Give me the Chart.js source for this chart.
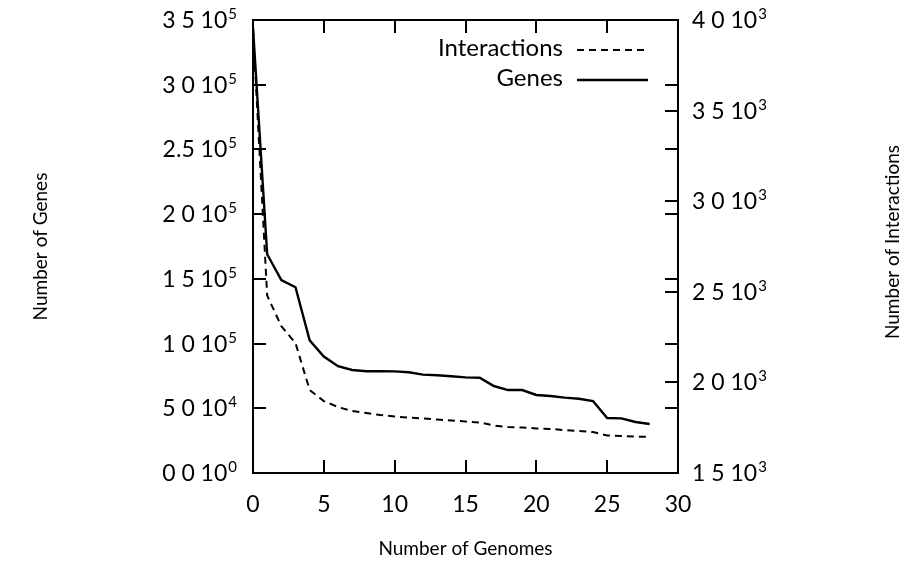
<!DOCTYPE html>
<html>
<head>
<meta charset="utf-8">
<script src="https://cdn.jsdelivr.net/npm/chart.js@4/dist/chart.umd.min.js"></script>
<style>
  body { margin: 0; background: #fff; }
  canvas { display: block; }
</style>
</head>
<body>
<canvas id="chart" width="922" height="561"></canvas>
<script>
// Genes / Interactions vs number of genomes
const genomes = [0, 1, 2, 3, 4, 5, 6, 7, 8, 9, 10, 11, 12, 13, 14, 15, 16, 17, 18, 19, 20, 21, 22, 23, 24, 25, 26, 27, 28];
const genes = [344000, 169000, 149000, 143500, 102500, 90000, 82500, 79600, 78600, 78600, 78500, 77800, 76000, 75500, 74700, 73900, 73600, 67200, 64100, 64100, 60300, 59500, 58200, 57400, 55600, 42500, 42200, 39400, 37900];
const interactions = [3950, 2480, 2310, 2217, 1958, 1897, 1864, 1842, 1831, 1820, 1812, 1806, 1801, 1795, 1790, 1784, 1779, 1762, 1754, 1751, 1746, 1743, 1737, 1732, 1726, 1707, 1704, 1701, 1699];

const xTicks = [0, 5, 10, 15, 20, 25, 30];
// tick labels as printed: mantissa, then "10" with a superscript exponent
const geneTicks = [0, 50000, 100000, 150000, 200000, 250000, 300000, 350000];
const geneTickBase = ['0 0', '5 0', '1 0', '1 5', '2 0', '2.5', '3 0', '3 5'];
const geneTickExp = ['0', '4', '5', '5', '5', '5', '5', '5'];
const interTicks = [1500, 2000, 2500, 3000, 3500, 4000];
const interTickBase = ['1 5', '2 0', '2 5', '3 0', '3 5', '4 0'];
const interTickExp = ['3', '3', '3', '3', '3', '3'];

const FONT = 'Lato, "DejaVu Sans", sans-serif';
const INK = '#000';
const TICK_PX = 23;
const SUP_PX = 15;

// frame + inward tick marks (gnuplot style), mirrored like the original
const framePlugin = {
  id: 'frame',
  afterDatasetsDraw(chart) {
    const { ctx, chartArea: a, scales } = chart;
    const len = 13;
    ctx.save();
    ctx.strokeStyle = INK;
    ctx.lineWidth = 2;
    ctx.setLineDash([]);
    ctx.beginPath();
    scales.x.ticks.forEach(t => {
      const px = Math.round(scales.x.getPixelForValue(t.value));
      if (px <= a.left + 1 || px >= a.right - 1) return;
      ctx.moveTo(px, a.bottom); ctx.lineTo(px, a.bottom - len);
      ctx.moveTo(px, a.top); ctx.lineTo(px, a.top + len);
    });
    scales.y.ticks.forEach(t => {
      const py = Math.round(scales.y.getPixelForValue(t.value));
      if (py <= a.top + 1 || py >= a.bottom - 1) return;
      ctx.moveTo(a.left, py); ctx.lineTo(a.left + len, py);
      ctx.moveTo(a.right, py); ctx.lineTo(a.right - len, py);
    });
    scales.y2.ticks.forEach(t => {
      const py = Math.round(scales.y2.getPixelForValue(t.value));
      if (py <= a.top + 1 || py >= a.bottom - 1) return;
      ctx.moveTo(a.right, py); ctx.lineTo(a.right - len, py);
    });
    ctx.stroke();
    ctx.strokeRect(a.left, a.top, a.right - a.left, a.bottom - a.top);
    ctx.restore();
  }
};

// y tick labels with real superscripts ("10" raised exponent)
function drawSciLabel(ctx, base, exp, x, y, alignRight) {
  const main = base + ' 10';
  ctx.font = TICK_PX + 'px ' + FONT;
  const wMain = ctx.measureText(main).width;
  ctx.font = SUP_PX + 'px ' + FONT;
  const wExp = ctx.measureText(exp).width;
  const left = alignRight ? x - wMain - wExp - 1 : x;
  ctx.font = TICK_PX + 'px ' + FONT;
  ctx.fillText(main, left, y + 8);
  ctx.font = SUP_PX + 'px ' + FONT;
  ctx.fillText(exp, left + wMain + 1, y - 1);
}

const sciTicksPlugin = {
  id: 'sciTicks',
  afterDraw(chart) {
    const { ctx, chartArea: a, scales } = chart;
    ctx.save();
    ctx.fillStyle = INK;
    ctx.textAlign = 'left';
    ctx.textBaseline = 'alphabetic';
    scales.y.ticks.forEach(t => {
      const i = geneTicks.indexOf(t.value);
      if (i < 0) return;
      drawSciLabel(ctx, geneTickBase[i], geneTickExp[i], a.left - 16, scales.y.getPixelForValue(t.value), true);
    });
    scales.y2.ticks.forEach(t => {
      const i = interTicks.indexOf(t.value);
      if (i < 0) return;
      drawSciLabel(ctx, interTickBase[i], interTickExp[i], a.right + 14, scales.y2.getPixelForValue(t.value), false);
    });
    ctx.restore();
  }
};

// key in the upper right: text right-aligned, line sample after it
const keyPlugin = {
  id: 'key',
  afterDraw(chart) {
    const { ctx } = chart;
    const textRight = 563, lineLeft = 577, lineRight = 648;
    const rows = [48, 78];
    ctx.save();
    ctx.font = '24px ' + FONT;
    ctx.textAlign = 'right';
    ctx.textBaseline = 'middle';
    chart.data.datasets.forEach((ds, i) => {
      const y = rows[i];
      ctx.fillStyle = INK;
      ctx.fillText(ds.label, textRight, y);
      ctx.strokeStyle = ds.borderColor;
      ctx.lineWidth = ds.borderWidth;
      ctx.setLineDash(ds.borderDash || []);
      ctx.beginPath();
      ctx.moveTo(lineLeft, y + 2);
      ctx.lineTo(lineRight, y + 2);
      ctx.stroke();
    });
    ctx.restore();
  }
};

// right-hand axis label, reading bottom to top like the left one
const y2TitlePlugin = {
  id: 'y2title',
  afterDraw(chart) {
    const { ctx } = chart;
    ctx.save();
    ctx.translate(893, 242);
    ctx.rotate(-Math.PI / 2);
    ctx.font = '19px ' + FONT;
    ctx.fillStyle = INK;
    ctx.textAlign = 'center';
    ctx.textBaseline = 'middle';
    ctx.fillText('Number of Interactions', 0, 0);
    ctx.restore();
  }
};

new Chart(document.getElementById('chart'), {
  type: 'line',
  data: {
    datasets: [
      {
        label: 'Interactions',
        data: genomes.map((g, i) => ({ x: g, y: interactions[i] })),
        yAxisID: 'y2',
        borderColor: INK,
        borderWidth: 2,
        borderDash: [7, 5],
        pointRadius: 0,
        tension: 0
      },
      {
        label: 'Genes',
        data: genomes.map((g, i) => ({ x: g, y: genes[i] })),
        yAxisID: 'y',
        borderColor: INK,
        borderWidth: 2.4,
        pointRadius: 0,
        tension: 0
      }
    ]
  },
  options: {
    responsive: false,
    animation: false,
    devicePixelRatio: 1,
    layout: { padding: { top: 20, left: 0, right: 0, bottom: 0 } },
    plugins: {
      legend: { display: false },
      tooltip: { enabled: false }
    },
    scales: {
      x: {
        type: 'linear',
        min: 0,
        max: 30,
        afterBuildTicks: s => { s.ticks = xTicks.map(v => ({ value: v })); },
        grid: { display: false },
        border: { display: false },
        ticks: { color: INK, font: { family: FONT, size: TICK_PX }, padding: 10, maxRotation: 0 },
        title: { display: true, text: 'Number of Genomes', color: INK, font: { family: FONT, size: 19 }, padding: { top: 0, bottom: 1 } },
        afterFit: s => { s.height = 561 - 473; }
      },
      y: {
        position: 'left',
        min: 0,
        max: 350000,
        afterBuildTicks: s => { s.ticks = geneTicks.map(v => ({ value: v })); },
        grid: { display: false },
        border: { display: false },
        ticks: { display: false },
        title: { display: true, text: 'Number of Genes', color: INK, font: { family: FONT, size: 19 }, padding: { top: 29, bottom: 0 } },
        afterFit: s => { s.width = 253; }
      },
      y2: {
        position: 'right',
        min: 1500,
        max: 4000,
        afterBuildTicks: s => { s.ticks = interTicks.map(v => ({ value: v })); },
        grid: { display: false },
        border: { display: false },
        ticks: { display: false },
        afterFit: s => { s.width = 922 - 678; }
      }
    }
  },
  plugins: [framePlugin, sciTicksPlugin, keyPlugin, y2TitlePlugin]
});
</script>
</body>
</html>
